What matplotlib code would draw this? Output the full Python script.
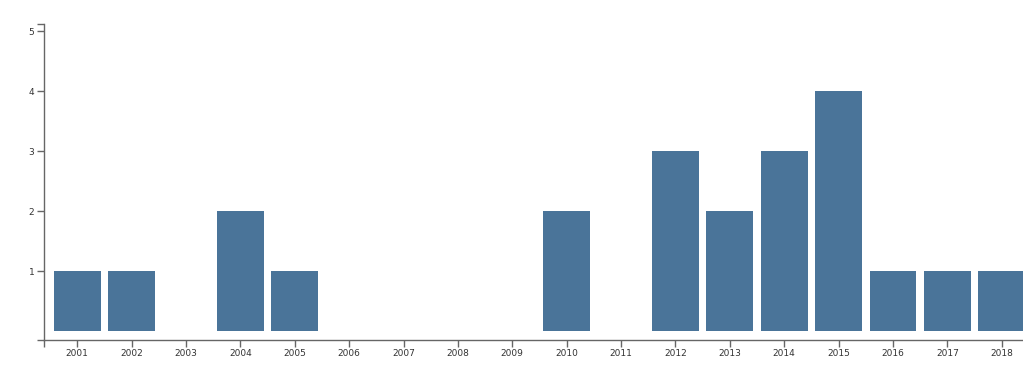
import numpy as np
from matplotlib import pyplot as plt

# .. yearly counts
years = [str(y) for y in range(2001, 2019)]
counts = [1, 1, 0, 2, 1, 0, 0, 0, 0, 2, 0, 3, 2, 3, 4, 1, 1, 1]

barColor = '#4a7499'
axisColor = '#666666'

W, H = 1023, 376
fig = plt.figure(figsize=(W/100, H/100), dpi=100)
ax = fig.add_axes([44/W, (H-340)/H, 1 - 44/W, (340-24)/H])

x = np.arange(len(years))
ax.bar(x, counts, width=0.86, color=barColor, zorder=2)

ax.set_xlim(-0.61, 17.39)
ax.set_ylim(-0.15, 5.117)

for s in ['top', 'right']:
    ax.spines[s].set_visible(False)
for s in ['left', 'bottom']:
    ax.spines[s].set_color(axisColor)
    ax.spines[s].set_linewidth(1)

ax.set_xticks(x, years)
ax.set_yticks([1, 2, 3, 4, 5])
ax.set_yticks([-0.15, 5.117], minor=True)
ax.set_xticks([-0.61], minor=True)
ax.tick_params(axis='both', which='both', length=5, width=1, color=axisColor,
               labelsize=6.5, labelcolor='#333333', pad=2)
ax.tick_params(axis='x', which='major', pad=1.5)

fig.savefig('out.png', dpi=100)
